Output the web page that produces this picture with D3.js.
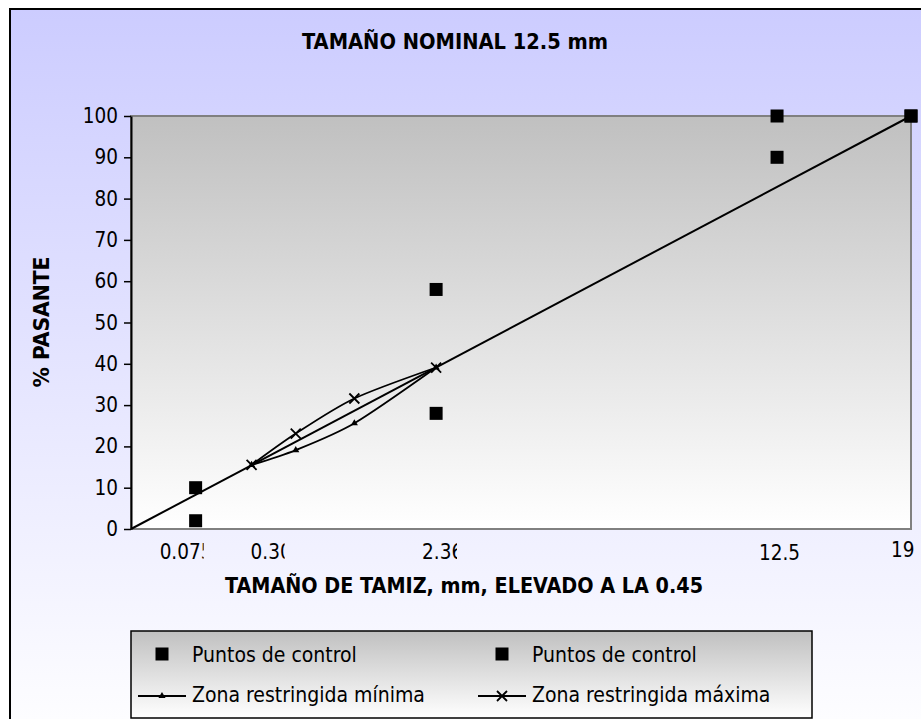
<!DOCTYPE html>
<html>
<head>
<meta charset="utf-8">
<script src="https://cdn.jsdelivr.net/npm/d3@7"></script>
<style>
  html, body { margin: 0; padding: 0; background: #ffffff; }
  svg { display: block; }
  text { font-family: "DejaVu Sans Condensed", "DejaVu Sans", sans-serif; fill: #000; }
</style>
</head>
<body>
<svg id="chart" width="921" height="719"></svg>
<script>
// Sieve sizes (mm) and gradation limits, % passing
const maxDensitySizes = [0, 19];
const maxDensityPassing = [0, 100];

const controlSizes = [0.075, 2.36, 12.5, 19];
const controlLower = [2, 28, 90, 100];
const controlUpper = [10, 58, 100, 100];

const restrictedSizes = [0.3, 0.6, 1.18, 2.36];
const restrictedMin = [15.5, 19.1, 25.6, 39.1];
const restrictedMax = [15.5, 23.1, 31.6, 39.1];

const sieveLabels = ["0.075", "0.30", "2.36", "12.5", "19"];
const sieveLabelValues = [0.075, 0.3, 2.36, 12.5, 19];
const yTicks = [0, 10, 20, 30, 40, 50, 60, 70, 80, 90, 100];

const titleText = "TAMAÑO NOMINAL  12.5 mm";
const xTitleText = "TAMAÑO DE TAMIZ, mm, ELEVADO A LA 0.45";
const yTitleText = "% PASANTE";
const legendNames = ["Puntos de control", "Puntos de control",
                     "Zona restringida mínima", "Zona restringida máxima"];

const svg = d3.select("#chart");
const defs = svg.append("defs");

function vGradient(id, top, bottom) {
  const g = defs.append("linearGradient").attr("id", id)
    .attr("x1", 0).attr("y1", 0).attr("x2", 0).attr("y2", 1);
  g.append("stop").attr("offset", "0%").attr("stop-color", top);
  g.append("stop").attr("offset", "100%").attr("stop-color", bottom);
}
vGradient("chartBg", "#ccccff", "#ffffff");
vGradient("plotBg", "#c0c0c0", "#ffffff");
vGradient("legendBg", "#c0c0c0", "#ffffff");

// Chart area (extends past the window edge on the right and bottom)
svg.append("rect")
  .attr("x", 10).attr("y", 9).attr("width", 940).attr("height", 740)
  .attr("fill", "url(#chartBg)").attr("stroke", "#000").attr("stroke-width", 2);

const plot = { left: 131, right: 911, top: 116, bottom: 529 };
const x = d3.scalePow().exponent(0.45).domain([0, 19]).range([plot.left, plot.right]);
const y = d3.scaleLinear().domain([0, 100]).range([plot.bottom, plot.top]);

// Plot area
svg.append("rect")
  .attr("x", plot.left).attr("y", plot.top)
  .attr("width", plot.right - plot.left).attr("height", plot.bottom - plot.top)
  .attr("fill", "url(#plotBg)").attr("stroke", "#808080").attr("stroke-width", 2);

// Y axis
const yAxis = svg.append("g")
  .attr("transform", `translate(${plot.left},0)`)
  .call(d3.axisLeft(y).tickValues(yTicks).tickSize(7).tickPadding(6).tickSizeOuter(0));
yAxis.select(".domain").attr("stroke", "#000").attr("stroke-width", 2);
yAxis.selectAll(".tick line").attr("stroke", "#000").attr("stroke-width", 1.5);
yAxis.selectAll(".tick text")
  .style("font-family", '"DejaVu Sans Condensed", "DejaVu Sans", sans-serif')
  .style("font-size", "20.5px").attr("fill", "#000");

// Sieve labels along the bottom, each clipped to its own box
const labelLayout = {
  "0.075": { dx: -36, clip: 44, y: 559 },
  "0.30":  { dx: -1,  clip: 34, y: 559 },
  "2.36":  { dx: -14, clip: 35, y: 559 },
  "12.5":  { dx: -18, clip: 80, y: 560 },
  "19":    { dx: -20, clip: 80, y: 557 }
};
sieveLabels.forEach((lab, i) => {
  const L = labelLayout[lab];
  const x0 = x(sieveLabelValues[i]) + L.dx;
  const id = "clip" + i;
  defs.append("clipPath").attr("id", id)
    .append("rect").attr("x", x0).attr("y", L.y - 25).attr("width", L.clip).attr("height", 35);
  svg.append("text")
    .attr("x", x0).attr("y", L.y)
    .attr("clip-path", `url(#${id})`)
    .style("font-size", "20.5px")
    .text(lab);
});

// Maximum density line
const pts = (xs, ys) => xs.map((d, i) => [x(d), y(ys[i])]);
svg.append("path")
  .attr("d", d3.line()(pts(maxDensitySizes, maxDensityPassing)))
  .attr("fill", "none").attr("stroke", "#000").attr("stroke-width", 2);

// Restricted zone boundaries (smoothed)
const smooth = d3.line().curve(d3.curveCardinal.tension(0.2));
svg.append("path")
  .attr("d", smooth(pts(restrictedSizes, restrictedMin)))
  .attr("fill", "none").attr("stroke", "#000").attr("stroke-width", 1.8);
svg.append("path")
  .attr("d", smooth(pts(restrictedSizes, restrictedMax)))
  .attr("fill", "none").attr("stroke", "#000").attr("stroke-width", 1.8);

function triangle(g, cx, cy) {
  g.append("path")
    .attr("d", d3.symbol(d3.symbolTriangle, 22)())
    .attr("transform", `translate(${cx},${cy})`).attr("fill", "#000");
}
function cross(g, cx, cy) {
  const s = 5;
  g.append("path")
    .attr("d", `M${cx - s},${cy - s}L${cx + s},${cy + s}M${cx - s},${cy + s}L${cx + s},${cy - s}`)
    .attr("stroke", "#000").attr("stroke-width", 1.8).attr("fill", "none");
}
function square(g, cx, cy, s) {
  g.append("rect").attr("x", cx - s / 2).attr("y", cy - s / 2)
    .attr("width", s).attr("height", s).attr("fill", "#000");
}

restrictedSizes.forEach((d, i) => triangle(svg, x(d), y(restrictedMin[i])));
restrictedSizes.forEach((d, i) => cross(svg, x(d), y(restrictedMax[i])));

// Control points
controlSizes.forEach((d, i) => square(svg, x(d), y(controlLower[i]), 13));
controlSizes.forEach((d, i) => square(svg, x(d), y(controlUpper[i]), 13));

// Titles
svg.append("text").attr("x", 455).attr("y", 49)
  .attr("text-anchor", "middle").attr("font-weight", "bold")
  .style("font-size", "22px")
  .attr("textLength", 306).attr("lengthAdjust", "spacingAndGlyphs")
  .text(titleText);

svg.append("text").attr("x", 464).attr("y", 593)
  .attr("text-anchor", "middle").attr("font-weight", "bold")
  .style("font-size", "22px")
  .attr("textLength", 478).attr("lengthAdjust", "spacingAndGlyphs")
  .text(xTitleText);

svg.append("text")
  .attr("transform", "translate(49,322) rotate(-90)")
  .attr("text-anchor", "middle").attr("font-weight", "bold")
  .style("font-size", "22px")
  .attr("textLength", 131).attr("lengthAdjust", "spacingAndGlyphs")
  .text(yTitleText);

// Legend
const lg = svg.append("g");
lg.append("rect")
  .attr("x", 131).attr("y", 631).attr("width", 681).attr("height", 87)
  .attr("fill", "url(#legendBg)").attr("stroke", "#000").attr("stroke-width", 1.5);

const colX = [162, 502];
const rowY = [654, 696];
// row 1: control points
[0, 1].forEach(c => {
  square(lg, colX[c], rowY[0], 13);
  lg.append("text").attr("x", colX[c] + 30).attr("y", rowY[0] + 8)
    .style("font-size", "21px").text(legendNames[c]);
});
// row 2: restricted zone lines
[0, 1].forEach(c => {
  lg.append("line")
    .attr("x1", colX[c] - 24).attr("x2", colX[c] + 24)
    .attr("y1", rowY[1]).attr("y2", rowY[1])
    .attr("stroke", "#000").attr("stroke-width", 1.8);
  if (c === 0) triangle(lg, colX[c], rowY[1]);
  else cross(lg, colX[c], rowY[1]);
  lg.append("text").attr("x", colX[c] + 30).attr("y", rowY[1] + 6)
    .style("font-size", "21px").text(legendNames[2 + c]);
});
</script>
</body>
</html>
